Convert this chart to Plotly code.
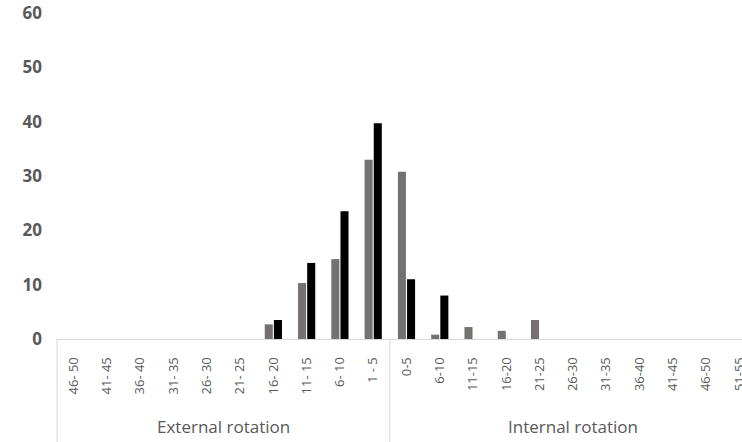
import plotly.graph_objects as go

ext_labels = ["46- 50", "41- 45", "36- 40", "31- 35", "26- 30", "21- 25",
              "16- 20", "11- 15", "6- 10", "1 - 5"]
int_labels = ["0-5", "6-10", "11-15", "16-20", "21-25", "26-30", "31-35",
              "36-40", "41-45", "46-50", "51-55"]
tick_labels = ext_labels + int_labels
group_labels = ["External rotation", "Internal rotation"]

gray_values = [0, 0, 0, 0, 0, 0, 2.7, 10.3, 14.7, 33.0,
               30.8, 0.8, 2.2, 1.5, 3.5, 0, 0, 0, 0, 0, 0]
black_values = [0, 0, 0, 0, 0, 0, 3.5, 14.0, 23.5, 39.7,
                11.0, 8.0, 0, 0, 0, 0, 0, 0, 0, 0, 0]

xs = list(range(len(tick_labels)))
font_fam = "Open Sans, Liberation Sans, Arial, sans-serif"
txt_col = "#595959"
line_col = "#d9d9d9"

fig = go.Figure()
fig.add_trace(go.Bar(x=xs, y=gray_values, marker=dict(color="#767171", line_width=0),
                     showlegend=False))
fig.add_trace(go.Bar(x=xs, y=black_values, marker=dict(color="#000000", line_width=0),
                     showlegend=False))

n_ext = len(ext_labels)
fig.update_layout(
    width=742, height=442,
    margin=dict(l=57, r=0, t=13, b=103, autoexpand=False),
    paper_bgcolor="white", plot_bgcolor="white",
    barmode="group", bargap=0.45, bargroupgap=0.12,
    font=dict(family=font_fam, color=txt_col),
    xaxis=dict(range=[-0.5, 20.08], tickmode="array", tickvals=xs, ticktext=tick_labels,
               tickangle=-90, tickfont=dict(size=13, color=txt_col),
               showline=True, linecolor=line_col, linewidth=1,
               showgrid=False, zeroline=False, ticks="", ticklabelstandoff=12,
               ticklabeloverflow="allow", automargin=False, fixedrange=True),
    yaxis=dict(range=[0, 60], tickvals=[0, 10, 20, 30, 40, 50, 60],
               tickfont=dict(size=17, color=txt_col, weight="bold"),
               showgrid=False, zeroline=False, showline=False, ticks="",
               ticklabelstandoff=14, automargin=False, fixedrange=True),
)

# category box lines
fig.add_shape(type="line", xref="paper", yref="paper", x0=0, x1=0, y0=0, y1=-0.4,
              line=dict(color=line_col, width=1))
fig.add_shape(type="line", xref="x", yref="paper", x0=n_ext - 0.5, x1=n_ext - 0.5,
              y0=0, y1=-0.4, line=dict(color=line_col, width=1))

# group labels
fig.add_annotation(x=(n_ext - 1) / 2, xref="x", y=-0.267, yref="paper",
                   text=group_labels[0], showarrow=False, yanchor="middle",
                   font=dict(size=17, color=txt_col))
fig.add_annotation(x=n_ext + (len(int_labels) - 1) / 2, xref="x", y=-0.267, yref="paper",
                   text=group_labels[1], showarrow=False, yanchor="middle",
                   font=dict(size=17, color=txt_col))

fig.write_html("out.html", config={"displayModeBar": False},
               post_script="document.body.style.margin='0';")
